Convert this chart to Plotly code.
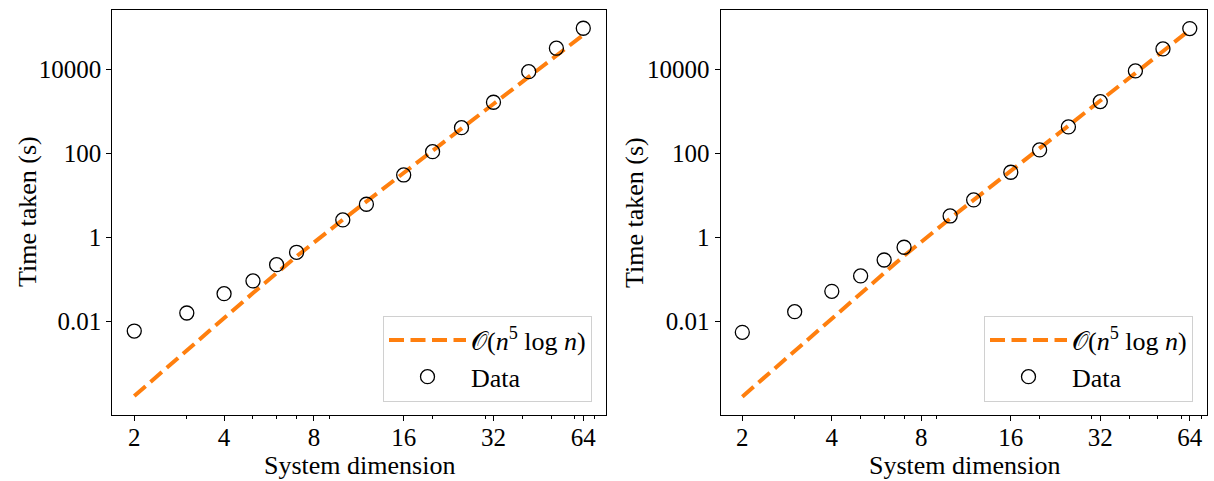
import plotly.graph_objects as go

# ---- data ----
n_vals = [2, 3, 4, 5, 6, 7, 10, 12, 16, 20, 25, 32, 42, 52, 64]

left_data = [0.0060, 0.0161, 0.0462, 0.0927, 0.226, 0.445, 2.61, 6.15,
             30.5, 109, 405, 1625, 8670, 31200, 93100]
left_fit = [1.72e-4, 2.12e-3, 1.26e-2, 4.79e-2, 0.142, 0.357, 2.64, 7.05,
            33.1, 112, 383, 1480, 6500, 20800, 64600]

right_data = [0.0056, 0.0173, 0.0527, 0.122, 0.292, 0.585, 3.24, 7.78,
              35.4, 120, 422, 1683, 9020, 30060, 91200]
right_fit = [1.66e-4, 2.03e-3, 1.20e-2, 4.70e-2, 0.143, 0.367, 2.82, 7.67,
             37.2, 128, 442, 1740, 7980, 26500, 85100]

x_major = [2, 4, 8, 16, 32, 64]
x_major_text = ["2", "4", "8", "16", "32", "64"]
x_minor = [3, 5, 6, 7, 9, 20, 30, 40, 50, 60, 70]
y_major = [0.01, 1, 100, 10000]
y_major_text = ["0.01", "1", "100", "10000"]

fit_label = "𝒪(<i>n</i><sup>5</sup> log <i>n</i>)"
data_label = "Data"
x_title = "System dimension"
y_title = "Time taken (s)"

FONT = "Liberation Serif"
ORANGE = "#ff7f0e"
W, H = 1214, 481

fig = go.Figure()

panels = [
    ("x", "y", "legend", left_fit, left_data),
    ("x2", "y2", "legend2", right_fit, right_data),
]
for xa, ya, lg, fit, dat in panels:
    fig.add_trace(go.Scatter(
        x=n_vals, y=fit, mode="lines", name=fit_label,
        line=dict(color=ORANGE, width=4, dash="15px,6.5px"),
        xaxis=xa, yaxis=ya, legend=lg, legendrank=1,
    ))
    fig.add_trace(go.Scatter(
        x=n_vals, y=dat, mode="markers", name=data_label,
        marker=dict(symbol="circle-open", size=14, color="black",
                    line=dict(width=1.3, color="black")),
        xaxis=xa, yaxis=ya, legend=lg, legendrank=2,
    ))

def px_x(p):
    return p / W

def px_y(p):
    return (H - p) / H

y_dom = [px_y(415), px_y(9.7)]

axis_common = dict(
    type="log",
    showgrid=False, zeroline=False,
    showline=True, linecolor="black", linewidth=1.2, mirror=True,
    ticks="outside", ticklen=5, tickwidth=1, tickcolor="black",
    tickfont=dict(family=FONT, size=25, color="black"),
    tickmode="array",
)

xaxis_cfg = dict(
    axis_common,
    tickvals=x_major, ticktext=x_major_text,
    ticklabelstandoff=-5,
    minor=dict(tickmode="array", tickvals=x_minor, ticks="outside",
               ticklen=3, tickwidth=0.8, tickcolor="black", showgrid=False),
)
yaxis_cfg = dict(
    axis_common,
    tickvals=y_major, ticktext=y_major_text,
    range=[-4.216, 5.409],
)

legend_common = dict(
    xanchor="right", yanchor="bottom",
    bgcolor="rgba(255,255,255,0.8)", bordercolor="#d0d0d0", borderwidth=1,
    font=dict(family=FONT, size=26, color="black"),
    itemwidth=77,
    entrywidth=204, entrywidthmode="pixels",
)

fig.update_layout(
    width=W, height=H, autosize=False,
    margin=dict(l=0, r=0, t=0, b=0),
    paper_bgcolor="white", plot_bgcolor="white",
    xaxis=dict(xaxis_cfg, domain=[px_x(112.3), px_x(605.7)], range=[0.2274, 1.8813], anchor="y"),
    yaxis=dict(yaxis_cfg, domain=y_dom, anchor="x"),
    xaxis2=dict(xaxis_cfg, domain=[px_x(720.7), px_x(1207)], range=[0.2283, 1.8641], anchor="y2"),
    yaxis2=dict(yaxis_cfg, domain=y_dom, anchor="x2"),
    legend=dict(legend_common, x=px_x(592), y=px_y(401.5)),
    legend2=dict(legend_common, x=px_x(1193), y=px_y(401.5)),
    showlegend=True,
)

title_font = dict(family=FONT, size=26, color="black")
for cx, lx in [(359, 27), (964, 634)]:
    fig.add_annotation(
        text=x_title, xref="paper", yref="paper",
        x=px_x(cx), y=px_y(465), xanchor="center", yanchor="middle",
        showarrow=False, font=title_font,
    )
    fig.add_annotation(
        text=y_title, xref="paper", yref="paper",
        x=px_x(lx), y=px_y(212), xanchor="center", yanchor="middle",
        textangle=-90, showarrow=False, font=title_font,
    )

fig.write_html("out.html", config={"displayModeBar": False},
               post_script="document.body.style.margin='0';")
